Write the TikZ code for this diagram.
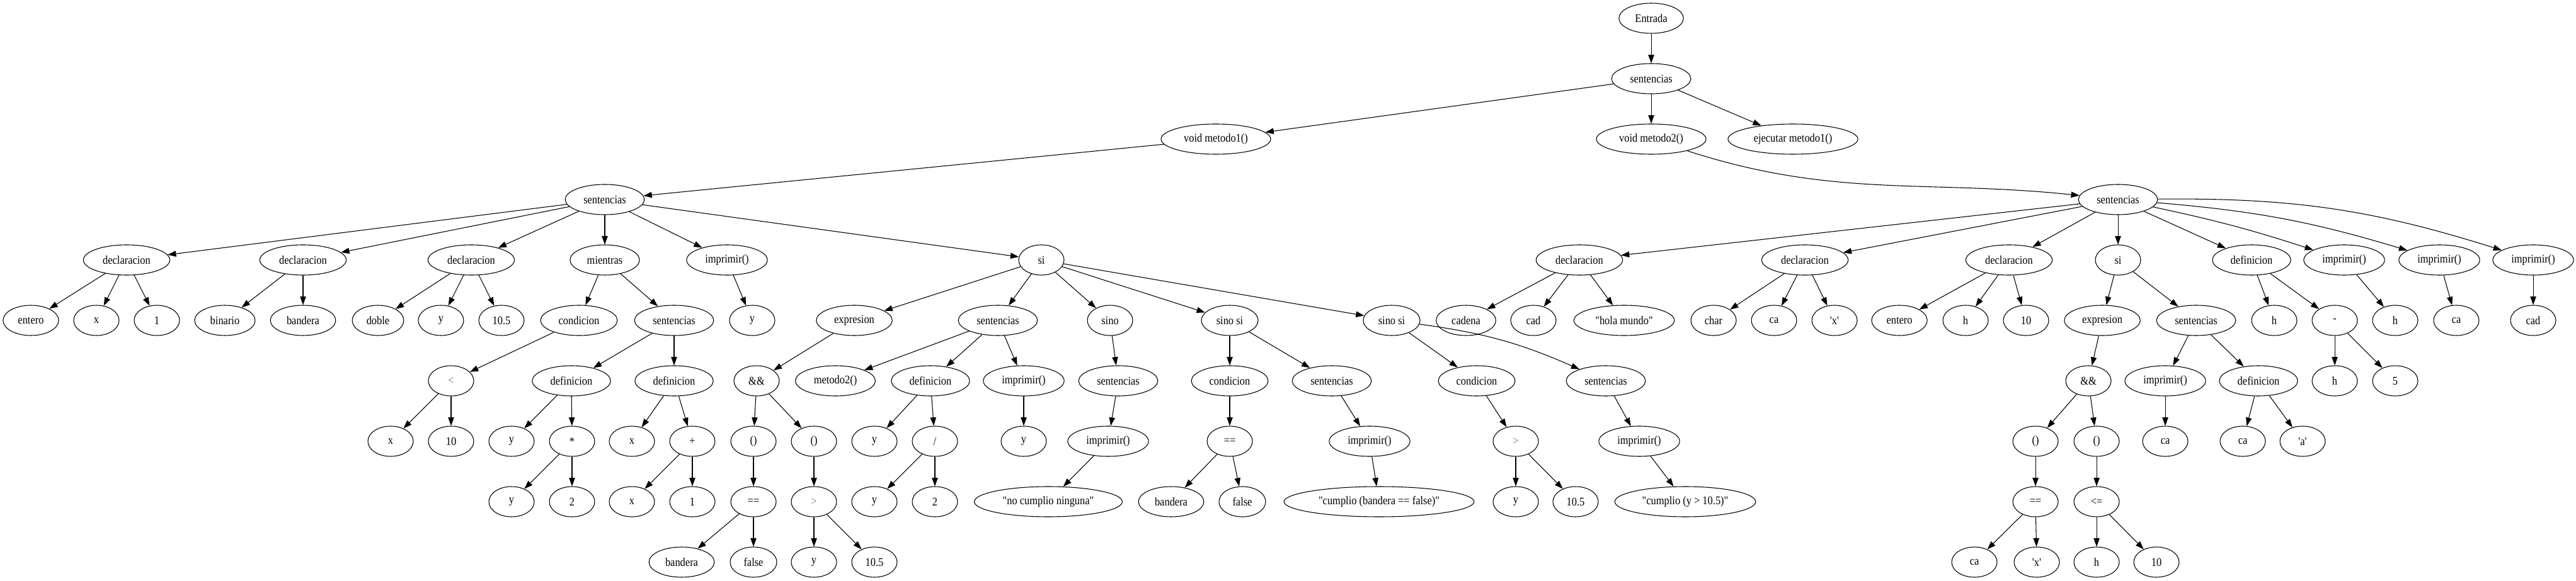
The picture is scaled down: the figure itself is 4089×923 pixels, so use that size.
\documentclass[tikz,border=0pt]{standalone}
\usepackage{fontspec}
\usepackage{tikz}
\usetikzlibrary{arrows.meta}
\usetikzlibrary{shapes.geometric}
\newfontfamily\gvfont{Liberation Serif}[FakeStretch=0.88]
\tikzset{nd/.style = {draw, ellipse, line width = 0.8pt, inner xsep = 8pt, inner ysep = 2pt, minimum width = 54pt, minimum height = 36pt, font = \gvfont\fontsize{14}{16}\selectfont}}
\tikzset{op/.style = {nd, text = black!55}}
\tikzset{arr/.style = {-{Triangle[length = 10pt, width = 7pt]}, line width = 0.8pt}}

\begin{document}
\begin{tikzpicture}[x = 0.75pt, y = -0.75pt]
    \useasboundingbox (0, 0) rectangle (4089, 923);

    % top
    \node [nd] (ent) at (2621, 29) {Entrada};
    \node [nd] (s0) at (2621, 125) {sentencias};
    \node [nd] (m1) at (1930, 221) {void metodo1()};
    \node [nd] (m2) at (2621, 221) {void metodo2()};
    \node [nd] (ej) at (2846, 221) {ejecutar metodo1()};
    \node [nd] (s1) at (960, 317) {sentencias};
    \node [nd] (s2) at (3362, 317) {sentencias};

    % row 4
    \node [nd] (da) at (201, 413) {declaracion};
    \node [nd] (db) at (481, 413) {declaracion};
    \node [nd] (dc) at (748, 413) {declaracion};
    \node [nd] (mi) at (960, 413) {mientras};
    \node [nd] (im) at (1154, 413) {imprimir()};
    \node [nd] (si) at (1653, 413) {si};
    \node [nd] (de) at (2507, 413) {declaracion};
    \node [nd] (df) at (2865, 413) {declaracion};
    \node [nd] (dg) at (3189, 413) {declaracion};
    \node [nd] (sj) at (3362, 413) {si};
    \node [nd] (fa) at (3574, 413) {definicion};
    \node [nd] (ia) at (3721, 413) {imprimir()};
    \node [nd] (ib) at (3872, 413) {imprimir()};
    \node [nd] (ic) at (4021, 413) {imprimir()};

    % row 5
    \node [nd] (a1) at (49, 509) {entero};
    \node [nd] (a2) at (153, 509) {x};
    \node [nd] (a3) at (249, 509) {1};
    \node [nd] (b1) at (357, 509) {binario};
    \node [nd] (b2) at (481, 509) {bandera};
    \node [nd] (c1) at (600, 509) {doble};
    \node [nd] (c2) at (700, 509) {y};
    \node [nd] (c3) at (796, 509) {10.5};
    \node [nd] (co) at (919, 509) {condicion};
    \node [nd] (ms) at (1070, 509) {sentencias};
    \node [nd] (imy) at (1194, 509) {y};
    \node [nd] (ex) at (1356, 509) {expresion};
    \node [nd] (ss) at (1584, 509) {sentencias};
    \node [nd] (sn) at (1762, 509) {sino};
    \node [nd] (ns1) at (1952, 509) {sino si};
    \node [nd] (ns2) at (2209, 509) {sino si};
    \node [nd] (e1) at (2327, 509) {cadena};
    \node [nd] (e2) at (2434, 509) {cad};
    \node [nd] (e3) at (2578, 509) {"hola mundo"};
    \node [nd] (f1) at (2720, 509) {char};
    \node [nd] (f2) at (2816, 509) {ca};
    \node [nd] (f3) at (2912, 509) {'x'};
    \node [nd] (g1) at (3015, 509) {entero};
    \node [nd] (g2) at (3120, 509) {h};
    \node [nd] (g3) at (3216, 509) {10};
    \node [nd] (exb) at (3337, 509) {expresion};
    \node [nd] (sb) at (3486, 509) {sentencias};
    \node [nd] (fh) at (3610, 509) {h};
    \node [nd] (fm) at (3706, 509) {-};
    \node [nd] (iah) at (3802, 509) {h};
    \node [nd] (ibc) at (3899, 509) {ca};
    \node [nd] (icc) at (4021, 509) {cad};

    % row 6
    \node [op] (lt) at (716, 605) {<};
    \node [nd] (dx) at (907, 605) {definicion};
    \node [nd] (dy) at (1070, 605) {definicion};
    \node [nd] (an) at (1201, 605) {\&\&};
    \node [nd] (mt) at (1326, 605) {metodo2()};
    \node [nd] (dz) at (1477, 605) {definicion};
    \node [nd] (ip) at (1625, 605) {imprimir()};
    \node [nd] (sq) at (1775, 605) {sentencias};
    \node [nd] (cb) at (1952, 605) {condicion};
    \node [nd] (sr) at (2114, 605) {sentencias};
    \node [nd] (cc) at (2344, 605) {condicion};
    \node [nd] (st) at (2549, 605) {sentencias};
    \node [nd] (ab) at (3315, 605) {\&\&};
    \node [nd] (ipc) at (3437, 605) {imprimir()};
    \node [nd] (dw) at (3585, 605) {definicion};
    \node [nd] (mh) at (3706, 605) {h};
    \node [nd] (m5) at (3802, 605) {5};

    % row 7
    \node [nd] (lx) at (620, 701) {x};
    \node [nd] (l10) at (716, 701) {10};
    \node [nd] (dyy) at (812, 701) {y};
    \node [nd] (mul) at (908, 701) {*};
    \node [nd] (dxx) at (1003, 701) {x};
    \node [nd] (plus) at (1099, 701) {+};
    \node [nd] (pa) at (1196, 701) {()};
    \node [nd] (pb) at (1292, 701) {()};
    \node [nd] (zy) at (1388, 701) {y};
    \node [nd] (dv) at (1484, 701) {/};
    \node [nd] (ipy) at (1625, 701) {y};
    \node [nd] (iq) at (1759, 701) {imprimir()};
    \node [nd] (eq1) at (1952, 701) {==};
    \node [nd] (ir) at (2174, 701) {imprimir()};
    \node [op] (gt2) at (2406, 701) {>};
    \node [nd] (is) at (2602, 701) {imprimir()};
    \node [nd] (pc) at (3231, 701) {()};
    \node [nd] (pd) at (3328, 701) {()};
    \node [nd] (ica) at (3437, 701) {ca};
    \node [nd] (wca) at (3560, 701) {ca};
    \node [nd] (wa) at (3655, 701) {'a'};

    % row 8
    \node [nd] (my) at (812, 797) {y};
    \node [nd] (mtwo) at (908, 797) {2};
    \node [nd] (px) at (1003, 797) {x};
    \node [nd] (p1) at (1099, 797) {1};
    \node [nd] (eq) at (1196, 797) {==};
    \node [op] (gt) at (1292, 797) {>};
    \node [nd] (vy) at (1388, 797) {y};
    \node [nd] (v2) at (1484, 797) {2};
    \node [nd] (nc) at (1664, 797) {"no cumplio ninguna"};
    \node [nd] (qb) at (1859, 797) {bandera};
    \node [nd] (qf) at (1972, 797) {false};
    \node [nd] (cbf) at (2189, 797) {"cumplio (bandera == false)"};
    \node [nd] (gy) at (2406, 797) {y};
    \node [nd] (g105) at (2501, 797) {10.5};
    \node [nd] (cy) at (2675, 797) {"cumplio (y > 10.5)"};
    \node [nd] (eq2) at (3231, 797) {==};
    \node [nd] (le) at (3328, 797) {<=};

    % row 9
    \node [nd] (eb) at (1082, 893) {bandera};
    \node [nd] (efa) at (1196, 893) {false};
    \node [nd] (gty) at (1292, 893) {y};
    \node [nd] (gt105) at (1388, 893) {10.5};
    \node [nd] (eca) at (3134, 893) {ca};
    \node [nd] (ex2) at (3233, 893) {'x'};
    \node [nd] (leh) at (3328, 893) {h};
    \node [nd] (le10) at (3423, 893) {10};

    % edges
    \draw [arr] (ent) -- (s0);
    \draw [arr] (s0) -- (m1);
    \draw [arr] (s0) -- (m2);
    \draw [arr] (s0) -- (ej);
    \draw [arr] (m1) -- (s1);
    \draw [arr] (m2) to [out = -18, in = 174] (s2);

    \draw [arr] (s1) -- (da);
    \draw [arr] (s1) -- (db);
    \draw [arr] (s1) -- (dc);
    \draw [arr] (s1) -- (mi);
    \draw [arr] (s1) -- (im);
    \draw [arr] (s1) -- (si);
    \draw [arr] (da) -- (a1);
    \draw [arr] (da) -- (a2);
    \draw [arr] (da) -- (a3);
    \draw [arr] (db) -- (b1);
    \draw [arr] (db) -- (b2);
    \draw [arr] (dc) -- (c1);
    \draw [arr] (dc) -- (c2);
    \draw [arr] (dc) -- (c3);
    \draw [arr] (mi) -- (co);
    \draw [arr] (mi) -- (ms);
    \draw [arr] (co) -- (lt);
    \draw [arr] (lt) -- (lx);
    \draw [arr] (lt) -- (l10);
    \draw [arr] (ms) -- (dx);
    \draw [arr] (ms) -- (dy);
    \draw [arr] (dx) -- (dyy);
    \draw [arr] (dx) -- (mul);
    \draw [arr] (mul) -- (my);
    \draw [arr] (mul) -- (mtwo);
    \draw [arr] (dy) -- (dxx);
    \draw [arr] (dy) -- (plus);
    \draw [arr] (plus) -- (px);
    \draw [arr] (plus) -- (p1);
    \draw [arr] (im) -- (imy);

    \draw [arr] (si) -- (ex);
    \draw [arr] (si) -- (ss);
    \draw [arr] (si) -- (sn);
    \draw [arr] (si) -- (ns1);
    \draw [arr] (si) -- (ns2);
    \draw [arr] (ex) -- (an);
    \draw [arr] (an) -- (pa);
    \draw [arr] (an) -- (pb);
    \draw [arr] (pa) -- (eq);
    \draw [arr] (eq) -- (eb);
    \draw [arr] (eq) -- (efa);
    \draw [arr] (pb) -- (gt);
    \draw [arr] (gt) -- (gty);
    \draw [arr] (gt) -- (gt105);
    \draw [arr] (ss) -- (mt);
    \draw [arr] (ss) -- (dz);
    \draw [arr] (ss) -- (ip);
    \draw [arr] (dz) -- (zy);
    \draw [arr] (dz) -- (dv);
    \draw [arr] (dv) -- (vy);
    \draw [arr] (dv) -- (v2);
    \draw [arr] (ip) -- (ipy);
    \draw [arr] (sn) -- (sq);
    \draw [arr] (sq) -- (iq);
    \draw [arr] (iq) -- (nc);
    \draw [arr] (ns1) -- (cb);
    \draw [arr] (ns1) -- (sr);
    \draw [arr] (cb) -- (eq1);
    \draw [arr] (eq1) -- (qb);
    \draw [arr] (eq1) -- (qf);
    \draw [arr] (sr) -- (ir);
    \draw [arr] (ir) -- (cbf);
    \draw [arr] (ns2) -- (cc);
    \draw [arr] (ns2) to [bend left = 8] (st);
    \draw [arr] (cc) -- (gt2);
    \draw [arr] (gt2) -- (gy);
    \draw [arr] (gt2) -- (g105);
    \draw [arr] (st) -- (is);
    \draw [arr] (is) -- (cy);

    \draw [arr] (s2) -- (de);
    \draw [arr] (s2) -- (df);
    \draw [arr] (s2) -- (dg);
    \draw [arr] (s2) -- (sj);
    \draw [arr] (s2) -- (fa);
    \draw [arr] (s2) to [bend left = 3] (ia);
    \draw [arr] (s2) to [bend left = 6] (ib);
    \draw [arr] (s2) to [bend left = 9] (ic);
    \draw [arr] (de) -- (e1);
    \draw [arr] (de) -- (e2);
    \draw [arr] (de) -- (e3);
    \draw [arr] (df) -- (f1);
    \draw [arr] (df) -- (f2);
    \draw [arr] (df) -- (f3);
    \draw [arr] (dg) -- (g1);
    \draw [arr] (dg) -- (g2);
    \draw [arr] (dg) -- (g3);
    \draw [arr] (sj) -- (exb);
    \draw [arr] (sj) -- (sb);
    \draw [arr] (exb) -- (ab);
    \draw [arr] (ab) -- (pc);
    \draw [arr] (ab) -- (pd);
    \draw [arr] (pc) -- (eq2);
    \draw [arr] (eq2) -- (eca);
    \draw [arr] (eq2) -- (ex2);
    \draw [arr] (pd) -- (le);
    \draw [arr] (le) -- (leh);
    \draw [arr] (le) -- (le10);
    \draw [arr] (sb) -- (ipc);
    \draw [arr] (sb) -- (dw);
    \draw [arr] (ipc) -- (ica);
    \draw [arr] (dw) -- (wca);
    \draw [arr] (dw) -- (wa);
    \draw [arr] (fa) -- (fh);
    \draw [arr] (fa) -- (fm);
    \draw [arr] (fm) -- (mh);
    \draw [arr] (fm) -- (m5);
    \draw [arr] (ia) -- (iah);
    \draw [arr] (ib) -- (ibc);
    \draw [arr] (ic) -- (icc);
\end{tikzpicture}
\end{document}
